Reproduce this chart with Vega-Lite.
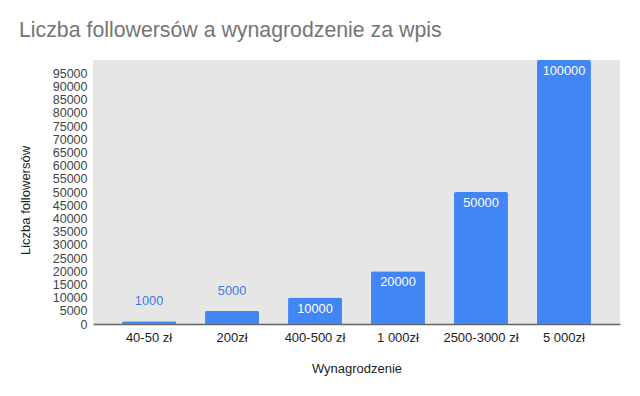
{
  "$schema": "https://vega.github.io/schema/vega-lite/v6.json",
  "width": 527,
  "height": 264,
  "autosize": {"type": "none"},
  "padding": {"left": 93, "top": 60, "right": 20, "bottom": 72},
  "background": "white",
  "title": {
    "text": "Liczba followersów a wynagrodzenie za wpis",
    "anchor": "start",
    "frame": "group",
    "dx": -74,
    "dy": 21,
    "font": "Liberation Sans",
    "fontSize": 21.3,
    "fontWeight": "normal",
    "color": "#757575",
    "baseline": "alphabetic",
    "offset": 23
  },
  "config": {
    "view": {"fill": "#e6e6e6", "stroke": null},
    "font": "Liberation Sans"
  },
  "data": {
    "values": [
      {"kategoria": "40-50 zł", "followers": 1000},
      {"kategoria": "200zł", "followers": 5000},
      {"kategoria": "400-500 zł", "followers": 10000},
      {"kategoria": "1 000zł", "followers": 20000},
      {"kategoria": "2500-3000 zł", "followers": 50000},
      {"kategoria": "5 000zł", "followers": 100000}
    ]
  },
  "encoding": {
    "x": {
      "field": "kategoria",
      "type": "nominal",
      "sort": null,
      "scale": {"padding": 0.35},
      "axis": {
        "title": "Wynagrodzenie",
        "titleFont": "Liberation Sans",
        "titleFontSize": 13,
        "titleFontWeight": "normal",
        "titleColor": "#222222",
        "titlePadding": 18,
        "labelAngle": 0,
        "labelFontSize": 13,
        "labelColor": "#222222",
        "labelPadding": 7,
        "ticks": false,
        "domainColor": "#666666",
        "domainWidth": 1.5
      }
    },
    "y": {
      "field": "followers",
      "type": "quantitative",
      "scale": {"domain": [0, 100000], "nice": false},
      "axis": {
        "title": "Liczba followersów",
        "titleFont": "Liberation Sans",
        "titleFontSize": 13,
        "titleFontWeight": "normal",
        "titleColor": "#222222",
        "titlePadding": 20,
        "titleY": 140,
        "values": [0,5000,10000,15000,20000,25000,30000,35000,40000,45000,50000,55000,60000,65000,70000,75000,80000,85000,90000,95000],
        "format": "d",
        "labelFontSize": 12.5,
        "labelColor": "#444444",
        "labelPadding": 6,
        "ticks": false,
        "domain": false,
        "grid": false
      }
    }
  },
  "layer": [
    {
      "mark": {"type": "bar", "color": "#4285F4", "cornerRadiusTopLeft": 2, "cornerRadiusTopRight": 2}
    },
    {
      "transform": [{"filter": "datum.followers >= 10000"}],
      "mark": {"type": "text", "color": "white", "dy": 11, "baseline": "middle", "fontSize": 12.8},
      "encoding": {"text": {"field": "followers", "type": "quantitative", "format": "d"}}
    },
    {
      "transform": [{"filter": "datum.followers < 10000"}],
      "mark": {"type": "text", "color": "#3b7be8", "dy": -20, "baseline": "middle", "fontSize": 12.8},
      "encoding": {"text": {"field": "followers", "type": "quantitative", "format": "d"}}
    }
  ]
}
